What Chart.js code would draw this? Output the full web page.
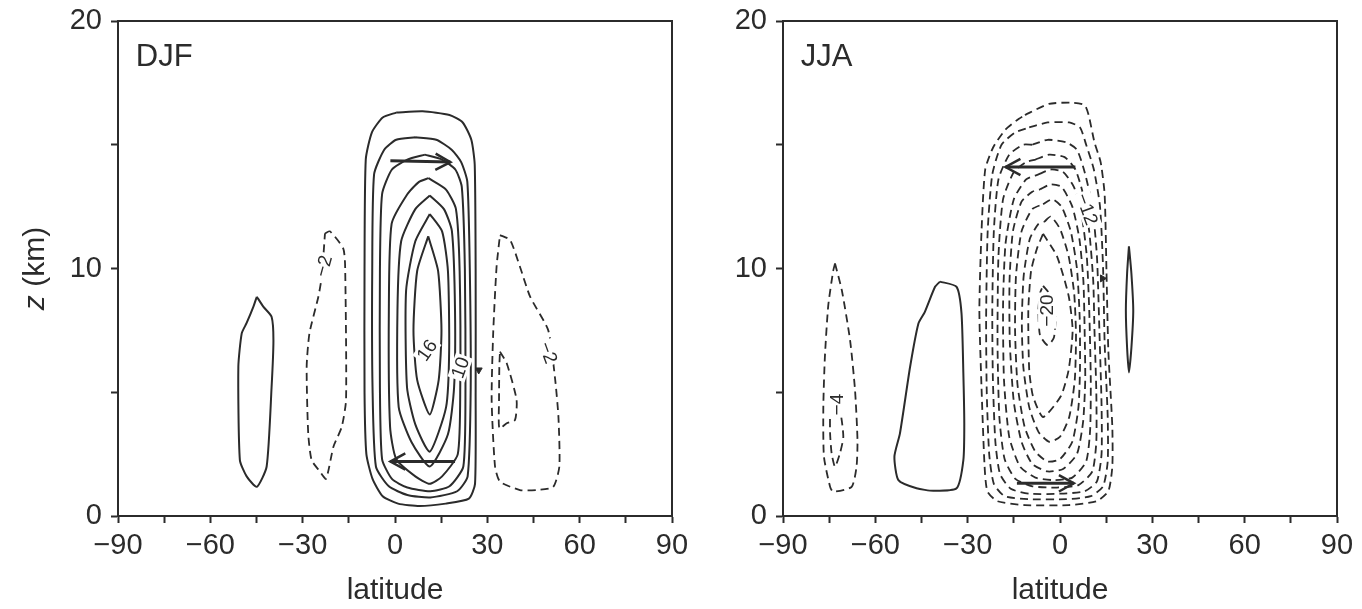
<!DOCTYPE html>
<html>
<head>
<meta charset="utf-8">
<script src="https://cdn.jsdelivr.net/npm/chart.js@4/dist/chart.umd.min.js"></script>
<style>
  html, body { margin: 0; padding: 0; background: #fff; }
  #wrap { position: relative; width: 1362px; height: 609px; }
  canvas { position: absolute; top: 0; }
  #djf { left: 0; z-index: 2; }
  #jja { left: 681px; z-index: 1; }
</style>
</head>
<body>
<div id="wrap">
  <canvas id="djf" width="710" height="609"></canvas>
  <canvas id="jja" width="681" height="609"></canvas>
</div>
<script>
// axis ticks
const latTicks = [-90, -75, -60, -45, -30, -15, 0, 15, 30, 45, 60, 75, 90];
const latLabels = [-90, -60, -30, 0, 30, 60, 90];
const zTicks = [0, 5, 10, 15, 20];
const zLabels = [0, 10, 20];

// DJF contours, [latitude, z km]
// positive (solid), outer to inner
const djf4 = [[0.4,16.3],[9,16.35],[17.7,16.2],[22,15.9],[24.8,15.2],[25.9,14.2],[26.2,10],[26.2,5],[26,1.3],[24,0.7],[16.5,0.5],[8,0.4],[1,0.5],[-4,0.8],[-7.3,1.5],[-9.3,2.5],[-9.9,5],[-9.9,10],[-9.5,14.4],[-7.5,15.5],[-4,16.1],[0.4,16.3]];
const djf6 = [[6.6,15.3],[13.4,15.2],[18.4,14.8],[21.5,14.3],[23.5,13.5],[24.3,10],[24.6,5.2],[23.6,1.6],[20.2,1.0],[11.5,0.75],[4,0.85],[-2,1.2],[-6.2,2],[-7.3,5.2],[-7.4,9.9],[-6.8,13.8],[-3.5,14.8],[0.4,15.2],[6.6,15.3]];
const djf8 = [[9.7,14.6],[15.3,14.4],[19.6,14],[21.7,13.3],[22.7,10],[22.9,5.2],[22.2,2],[17.7,1.2],[11.5,1.0],[4,1.15],[-1,1.5],[-4.2,2.3],[-4.9,5.2],[-4.9,9.9],[-4.2,13],[-1,14],[4,14.4],[9.7,14.6]];
const djf10 = [[10.9,13.65],[16.5,13.2],[19.8,12.4],[21,9.9],[21.2,5.2],[20.4,2.5],[15.3,1.6],[11.3,1.3],[6.6,1.6],[0.4,2.3],[-1.6,3.6],[-2,8.3],[-1.1,11.8],[4,13],[7.8,13.5],[10.9,13.65]];
const djf12 = [[11.3,12.95],[15.9,12.4],[18.5,11.5],[19.5,8.3],[19.2,5.2],[17.2,3.3],[11.3,2.0],[5.3,3.0],[1.2,4.4],[0.8,8.3],[2,11.1],[6.6,12.4],[11.3,12.95]];
const djf14 = [[11.3,12.2],[15.3,11.5],[17.2,9.9],[17.6,6.7],[16.6,4.4],[11.3,2.6],[6.6,3.7],[3.9,5.2],[3.6,9.1],[6.6,11.1],[11.3,12.2]];
const djf16 = [[10.8,11.3],[14,9.9],[15.1,7.5],[14.2,5.5],[11.3,4.1],[7.2,5.5],[6,7.5],[7.2,9.9],[10.8,11.3]];
const djfSouthPos = [[-44.9,8.86],[-42.8,8.46],[-40.1,8.05],[-39.5,7.1],[-40.1,5.2],[-41.7,2.0],[-44.9,1.18],[-48.2,1.6],[-50.4,2.26],[-50.9,6.03],[-49.8,7.38],[-48.2,7.8],[-46,8.46],[-44.9,8.86]];
// negative (dashed)
const djfSouthNeg = [[-22.75,11.42],[-21.1,11.5],[-16.8,10.8],[-16.2,10.07],[-15.9,4.7],[-17.3,3.6],[-20,2.8],[-22.4,1.5],[-24.4,1.8],[-27.1,2.26],[-28.2,3.34],[-28.7,6.03],[-27.8,7.38],[-24.9,8.86],[-23.8,9.67],[-22.75,11.42]];
const djfNorthNeg = [[34.1,11.35],[37.4,11.15],[40.6,10.07],[43.9,8.86],[49.8,7.5],[52,5.56],[53.1,4.0],[53.4,2.0],[51.4,1.18],[46,1.05],[40.6,1.05],[34.1,1.39],[32.5,2.0],[31.4,4.7],[31.9,7.38],[33,10.07],[34.1,11.35]];
const djfNorthNeg2 = [[34.1,6.64],[36.3,6.17],[39.5,4.7],[39,3.88],[36.3,3.75],[33.9,3.54],[33.8,4.7],[33.9,6.03],[34.1,6.64]];
// circulation arrows
const djfArrowUp = [[-1.5,14.35],[18,14.3]];
const djfArrowLow = [[19.5,2.2],[-1.5,2.2]];
const djfMarks = [[27.2,5.9]];
const djfLabels = [['16',10.4,6.7],['10',21.2,6.0],['\u22122',-23.3,10.1],['\u22122',49.8,6.6]];

// JJA contours
const jja2 = [[-11.4,16.2],[-3.6,16.65],[4.1,16.7],[8,16.6],[9.3,16.2],[11.2,15.1],[13.2,14.3],[14.5,13.0],[15.1,9.9],[15.7,6.7],[17,3.6],[17,2.0],[15.7,1.0],[11.9,0.6],[2.8,0.44],[-11.4,0.44],[-20.4,0.6],[-23.6,1.0],[-24.5,2.0],[-25.5,5.2],[-26.2,8.3],[-25.5,11.5],[-24.3,14],[-21.7,14.9],[-17.8,15.6],[-13.9,16.0],[-11.4,16.2]];
const jja4 = [[-10,15.7],[-4,15.9],[3,15.9],[6.5,15.7],[8.5,15.0],[11,14.0],[13,12.5],[14,10],[14.5,7],[15.5,4],[15.5,2.2],[14,1.2],[10,0.8],[2,0.68],[-10,0.68],[-18,0.8],[-21.5,1.3],[-23,2.5],[-23.8,5],[-24,8],[-23.5,11.5],[-22,13.8],[-19,15],[-14.5,15.5],[-10,15.7]];
const jja6 = [[-9,15.0],[-4,15.2],[2,15.1],[5.5,14.8],[8,13.9],[10.5,12.5],[12,10.5],[12.8,7.5],[13.5,4.5],[13.5,2.5],[12,1.4],[8,1.0],[0,0.9],[-10,0.9],[-16,1.1],[-19.5,1.7],[-21,3],[-21.8,5.5],[-22,8.3],[-21.5,11.5],[-20,13.6],[-16.5,14.6],[-12,15],[-9,15.0]];
const jja8 = [[-8,14.4],[-3.5,14.6],[1.5,14.5],[5,14.0],[7.5,13.0],[9.5,11.5],[10.8,9.5],[11.2,7.5],[11.8,5],[11.8,3],[10.5,1.8],[6,1.25],[-1,1.15],[-9,1.2],[-14.5,1.5],[-18,2.3],[-19.7,4],[-20.3,7],[-20,10.5],[-18.5,12.8],[-15,13.9],[-11,14.3],[-8,14.4]];
const jja10 = [[-7,13.8],[-3,14.0],[1,13.9],[4.5,13.3],[7,12.2],[8.7,10.5],[9.5,8.3],[10,5.5],[9.8,3.5],[8.5,2.2],[4,1.55],[-2,1.45],[-8,1.55],[-13,2.0],[-16.5,3.2],[-18.2,5.5],[-18.5,8.5],[-17.7,11],[-15,12.8],[-11,13.6],[-7,13.8]];
const jja12 = [[-6.5,13.2],[-3,13.4],[0.5,13.3],[4,12.5],[6.3,11.2],[7.6,9.5],[8,7.5],[8.2,5.5],[7.5,3.8],[5.5,2.5],[1,1.9],[-4,1.8],[-9,2.1],[-12.5,3],[-15,4.6],[-16.3,7],[-16.4,9.5],[-15.3,11.5],[-12.5,12.7],[-9,13.1],[-6.5,13.2]];
const jja14 = [[-5.5,12.6],[-2.5,12.8],[0.5,12.5],[3.5,11.5],[5.5,10],[6.4,8],[6.5,6],[6,4.4],[4,3.0],[0,2.3],[-4,2.2],[-8,2.6],[-11.5,3.6],[-13.8,5.3],[-14.6,7.5],[-14.3,9.7],[-12.5,11.5],[-9,12.4],[-5.5,12.6]];
const jja16 = [[-5,11.9],[-3,12.1],[0,11.6],[2.8,10.5],[4.6,9],[5.2,7.3],[4.8,5.5],[3,4.0],[0,3.2],[-3.5,3.0],[-7,3.4],[-10,4.4],[-11.9,6],[-12.4,7.8],[-11.8,9.7],[-9.8,11.2],[-7,11.8],[-5,11.9]];
const jja18 = [[-5.5,11.4],[-1,10.5],[2.8,8.9],[4.1,7.5],[2.8,5.9],[0.3,4.85],[-5.5,4.0],[-8.8,4.85],[-10,5.9],[-10.3,8.3],[-9.4,9.9],[-7.5,10.8],[-5.5,11.4]];
const jja20 = [[-5.5,9.3],[-3,8.9],[-1.5,8.0],[-2,7.2],[-4,6.9],[-6.5,7.3],[-7,8.3],[-6.5,9.0],[-5.5,9.3]];
const jjaPolarNeg = [[-73.1,10.2],[-70.9,9.13],[-68.2,7.1],[-66.6,5.09],[-65.8,3.07],[-66.1,2.0],[-67.7,1.18],[-73.7,0.98],[-74.7,1.18],[-76.7,2.4],[-76.9,4.4],[-76.4,6.4],[-75.3,8.5],[-73.7,9.9],[-73.1,10.2]];
const jjaPolarNeg2 = [[-74.2,4.95],[-71.5,4.28],[-70.4,3.2],[-71.5,2.53],[-73.1,1.99],[-74.2,2.53],[-74.7,3.34],[-74.7,4.15],[-74.2,4.95]];
const jjaSouthPos = [[-39,9.47],[-33.6,9.26],[-32,8.19],[-31.4,5.76],[-31.1,3.74],[-31.4,2.26],[-33.6,1.12],[-41.2,1.02],[-46.6,1.12],[-52.5,1.45],[-53.8,2.4],[-52,3.34],[-48.7,6.03],[-46,7.78],[-43.9,8.25],[-40.6,9.26],[-39,9.47]];
const jjaNorthPos = [[22.4,10.9],[23.2,9.8],[23.8,8.3],[23.2,6.8],[22.4,5.8],[21.8,6.8],[21.4,8.3],[21.8,9.8],[22.4,10.9]];
const jjaArrowUp = [[5,14.1],[-17.7,14.1]];
const jjaArrowLow = [[-14,1.32],[4.5,1.32]];
const jjaMarks = [[13.8,9.6]];
const jjaLabels = [['\u221212',8.8,12.4],['\u221220',-4.2,8.3],['\u22124',-72.6,4.5]];

const ink = '#2b2b2b';
const fontFamily = '"Liberation Sans", Arial, Helvetica, sans-serif';
const labelAngles = { djf: [-55, -70, -75, 70], jja: [70, -90, -90] };

function line(pts, dashed) {
  return {
    data: pts.map(p => ({ x: p[0], y: p[1] })),
    showLine: true,
    borderColor: ink,
    borderWidth: dashed ? 1.8 : 2,
    borderDash: dashed ? [8, 5] : [],
    pointRadius: 0,
    tension: 0.2,
    fill: false
  };
}

function arrow(pts) {
  return {
    data: pts.map(p => ({ x: p[0], y: p[1] })),
    showLine: true,
    borderColor: ink,
    borderWidth: 3,
    pointRadius: 0,
    tension: 0,
    arrow: true
  };
}

function marks(pts, rot) {
  return {
    data: pts.map(p => ({ x: p[0], y: p[1] })),
    showLine: false,
    pointStyle: 'triangle',
    pointRadius: 4,
    rotation: rot,
    backgroundColor: ink,
    borderColor: ink
  };
}

const panelPlugin = {
  id: 'panelDecor',
  afterDatasetsDraw(chart) {
    const ctx = chart.ctx;
    const { left, top, right, bottom } = chart.chartArea;
    const xs = chart.scales.x, ys = chart.scales.y;
    const cfg = chart.options.plugins.panelDecor;
    ctx.save();
    // arrowheads
    chart.data.datasets.forEach((ds, i) => {
      if (!ds.arrow) return;
      const pts = chart.getDatasetMeta(i).data;
      const a = pts[pts.length - 2], b = pts[pts.length - 1];
      const ang = Math.atan2(b.y - a.y, b.x - a.x);
      const len = 17, spread = 0.5;
      ctx.strokeStyle = ink;
      ctx.lineWidth = 2.5;
      ctx.beginPath();
      ctx.moveTo(b.x - len * Math.cos(ang - spread), b.y - len * Math.sin(ang - spread));
      ctx.lineTo(b.x, b.y);
      ctx.lineTo(b.x - len * Math.cos(ang + spread), b.y - len * Math.sin(ang + spread));
      ctx.stroke();
    });
    // contour labels
    ctx.font = '19px ' + fontFamily;
    ctx.textAlign = 'center';
    ctx.textBaseline = 'middle';
    cfg.labels.forEach((l, i) => {
      const px = xs.getPixelForValue(l[1]), py = ys.getPixelForValue(l[2]);
      const w = ctx.measureText(l[0]).width;
      ctx.save();
      ctx.translate(px, py);
      ctx.rotate(cfg.angles[i] * Math.PI / 180);
      ctx.fillStyle = '#fff';
      ctx.fillRect(-w / 2 - 2, -9, w + 4, 18);
      ctx.fillStyle = ink;
      ctx.fillText(l[0], 0, 1);
      ctx.restore();
    });
    // panel name
    ctx.font = '31px ' + fontFamily;
    ctx.textAlign = 'left';
    ctx.textBaseline = 'alphabetic';
    ctx.fillStyle = ink;
    ctx.fillText(cfg.name, xs.getPixelForValue(-84.2), ys.getPixelForValue(18.2));
    // frame
    ctx.strokeStyle = ink;
    ctx.lineWidth = 2;
    ctx.strokeRect(left, top, right - left, bottom - top);
    // y title
    if (cfg.yTitle) {
      const cy = (top + bottom) / 2;
      ctx.translate(36, cy);
      ctx.rotate(-Math.PI / 2);
      ctx.textBaseline = 'middle';
      ctx.font = 'italic 30px ' + fontFamily;
      const w1 = ctx.measureText('z').width;
      ctx.font = '30px ' + fontFamily;
      const w2 = ctx.measureText(' (km)').width;
      const x0 = -(w1 + w2) / 2;
      ctx.font = 'italic 30px ' + fontFamily;
      ctx.fillText('z', x0, 0);
      ctx.font = '30px ' + fontFamily;
      ctx.fillText(' (km)', x0 + w1, 0);
    }
    ctx.restore();
  }
};

function makePanel(id, name, yW, rightPad, datasets, labels, angles, yTitle) {
  return new Chart(document.getElementById(id), {
    type: 'scatter',
    data: { datasets: datasets },
    plugins: [panelPlugin],
    options: {
      responsive: false,
      animation: false,
      devicePixelRatio: 1,
      layout: { padding: { top: 21, right: rightPad, left: 0, bottom: 0 } },
      plugins: {
        legend: { display: false },
        tooltip: { enabled: false },
        panelDecor: { name: name, labels: labels, angles: angles, yTitle: yTitle }
      },
      scales: {
        x: {
          type: 'linear', min: -90, max: 90,
          afterBuildTicks: a => { a.ticks = latTicks.map(v => ({ value: v })); },
          afterFit: a => { a.height = 93; a.paddingLeft = 0; a.paddingRight = 0; },
          ticks: {
            autoSkip: false, maxRotation: 0,
            callback: v => latLabels.includes(v) ? (v < 0 ? '\u2212' + Math.abs(v) : String(v)) : '',
            font: { family: fontFamily, size: 29 }, color: ink, padding: 6
          },
          grid: { drawOnChartArea: false, drawTicks: true, tickLength: 7, tickColor: ink, tickWidth: 2 },
          border: { display: true, color: ink, width: 2 },
          title: { display: true, text: 'latitude', color: ink, font: { family: fontFamily, size: 30 }, padding: { top: 0, bottom: 0 } }
        },
        y: {
          type: 'linear', min: 0, max: 20,
          afterBuildTicks: a => { a.ticks = zTicks.map(v => ({ value: v })); },
          afterFit: a => { a.width = yW; a.paddingTop = 0; a.paddingBottom = 0; },
          ticks: {
            autoSkip: false,
            callback: v => zLabels.includes(v) ? String(v) : '',
            font: { family: fontFamily, size: 29 }, color: ink, padding: 9
          },
          grid: { drawOnChartArea: false, drawTicks: true, tickLength: 7, tickColor: ink, tickWidth: 2 },
          border: { display: true, color: ink, width: 2 }
        }
      }
    }
  });
}

const djfSets = [
  line(djf4), line(djf6), line(djf8), line(djf10), line(djf12), line(djf14), line(djf16),
  line(djfSouthPos),
  line(djfSouthNeg, true), line(djfNorthNeg, true), line(djfNorthNeg2, true),
  arrow(djfArrowUp), arrow(djfArrowLow), marks(djfMarks, 180)
];
const jjaSets = [
  line(jja2, true), line(jja4, true), line(jja6, true), line(jja8, true), line(jja10, true),
  line(jja12, true), line(jja14, true), line(jja16, true), line(jja18, true), line(jja20, true),
  line(jjaPolarNeg, true), line(jjaPolarNeg2, true),
  line(jjaSouthPos), line(jjaNorthPos),
  arrow(jjaArrowUp), arrow(jjaArrowLow), marks(jjaMarks, 90)
];

makePanel('djf', 'DJF', 118, 38, djfSets, djfLabels, labelAngles.djf, true);
makePanel('jja', 'JJA', 102, 25, jjaSets, jjaLabels, labelAngles.jja, false);
</script>
</body>
</html>
